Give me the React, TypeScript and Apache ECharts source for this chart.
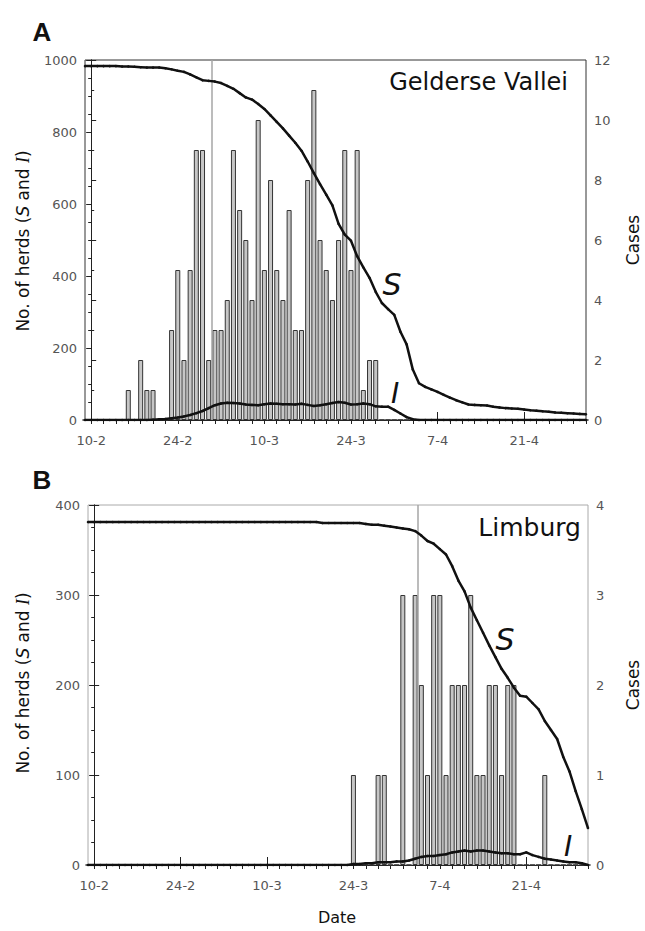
import React, { useEffect, useRef } from "react";
import * as echarts from "echarts";

// Day labels (d-m), 9-2 .. 1-5; index i corresponds to day offset i-1 from 10-2
const dates = [
  "9-2","10-2","11-2","12-2","13-2","14-2","15-2","16-2","17-2","18-2",
  "19-2","20-2","21-2","22-2","23-2","24-2","25-2","26-2","27-2","28-2",
  "1-3","2-3","3-3","4-3","5-3","6-3","7-3","8-3","9-3","10-3",
  "11-3","12-3","13-3","14-3","15-3","16-3","17-3","18-3","19-3","20-3",
  "21-3","22-3","23-3","24-3","25-3","26-3","27-3","28-3","29-3","30-3",
  "31-3","1-4","2-4","3-4","4-4","5-4","6-4","7-4","8-4","9-4",
  "10-4","11-4","12-4","13-4","14-4","15-4","16-4","17-4","18-4","19-4",
  "20-4","21-4","22-4","23-4","24-4","25-4","26-4","27-4","28-4","29-4",
  "30-4","1-5",
];

const tickLabels = ["10-2", "24-2", "10-3", "24-3", "7-4", "21-4"];

// Panel A: Gelderse Vallei
const casesA = [
  0,0,0,0,0,0,0,1,0,2,
  1,1,0,0,3,5,2,5,9,9,
  2,3,3,4,9,7,6,4,10,5,
  8,5,4,7,3,3,8,11,6,5,
  4,6,9,5,9,1,2,2,0,0,
  0,0,0,0,0,0,0,0,0,0,
  0,0,0,0,0,0,0,0,0,0,
  0,0,0,0,0,0,0,0,0,0,
  0,0,
];
const susceptibleA = [
  983,983,983,983,983,983,982,982,981,980,
  979,979,979,977,974,970,967,960,952,944,
  942,940,936,928,920,908,896,890,878,864,
  846,828,810,790,770,748,718,686,655,626,
  596,545,515,498,455,424,395,356,325,308,
  292,245,210,140,102,92,85,78,70,62,
  55,49,43,42,41,40,37,35,33,32,
  31,29,27,26,24,23,21,20,19,18,
  17,16,
];
const infectiousA = [
  0,0,0,0,0,0,0,0,0,0,
  0,1,2,3,5,7,10,14,19,25,
  33,41,46,48,47,46,43,42,41,44,
  46,45,44,44,43,45,42,39,41,44,
  47,50,48,43,44,46,44,38,37,37,
  28,18,8,2,0,0,0,0,0,0,
  0,0,0,0,0,0,0,0,0,0,
  0,0,0,0,0,0,0,0,0,0,
  0,0,
];
const controlDateA = "2-3";

// Panel B: Limburg
const casesB = [
  0,0,0,0,0,0,0,0,0,0,
  0,0,0,0,0,0,0,0,0,0,
  0,0,0,0,0,0,0,0,0,0,
  0,0,0,0,0,0,0,0,0,0,
  0,0,0,1,0,0,0,1,1,0,
  0,3,0,3,2,1,3,3,1,2,
  2,2,3,1,1,2,2,1,2,2,
  0,0,0,0,1,0,0,0,0,0,
  0,0,
];
const susceptibleB = [
  381,381,381,381,381,381,381,381,381,381,
  381,381,381,381,381,381,381,381,381,381,
  381,381,381,381,381,381,381,381,381,381,
  381,381,381,381,381,381,381,381,380,380,
  380,380,380,380,380,379,378,378,377,376,
  375,374,373,371,366,360,357,351,345,332,
  316,304,286,272,258,244,231,218,208,197,
  188,187,180,173,160,150,140,120,104,82,
  62,41,
];
const infectiousB = [
  0,0,0,0,0,0,0,0,0,0,
  0,0,0,0,0,0,0,0,0,0,
  0,0,0,0,0,0,0,0,0,0,
  0,0,0,0,0,0,0,0,0,0,
  0,0,0,1,1,2,2,3,3,3,
  4,4,5,7,9,10,10,11,12,14,
  15,16,15,16,16,15,14,13,13,12,
  12,14,11,9,7,6,5,4,3,3,
  2,0,
];
const controlDateB = "4-4";

const FONT = "DejaVu Sans";

function dayOf(label: string) {
  return dates.indexOf(label) - 1;
}

function pairs(values: number[]) {
  return values.map((v, i) => [i - 1, v]);
}

export default function App() {
  const ref = useRef<HTMLDivElement>(null);

  useEffect(() => {
    if (!ref.current) return;
    const chart = echarts.init(ref.current, undefined, { renderer: "svg" });

    const labelDays = tickLabels.map(dayOf);
    const minorDays = dates
      .map((_, i) => i - 1)
      .filter((d) => d >= 0 && d % 2 === 0);
    const fmt = (v: number) => dates[Math.round(v) + 1] ?? "";

    const mainX = (gridIndex: number) => ({
      type: "value",
      gridIndex,
      min: -1,
      max: 80,
      axisLine: { show: true, onZero: false, lineStyle: { color: "#222", width: 1 } },
      axisTick: { show: true, customValues: minorDays, length: 4, lineStyle: { color: "#222" } },
      axisLabel: {
        customValues: labelDays,
        formatter: fmt,
        color: "#555",
        fontSize: 13,
        fontFamily: FONT,
        margin: 14,
      },
      splitLine: { show: false },
    });
    const majorX = (gridIndex: number) => ({
      type: "value",
      gridIndex,
      min: -1,
      max: 80,
      axisLine: { show: false },
      axisTick: { show: true, customValues: labelDays, length: 8, lineStyle: { color: "#222" } },
      axisLabel: { show: false },
      splitLine: { show: false },
    });
    const yAx = (
      gridIndex: number,
      position: "left" | "right",
      max: number,
      interval: number,
      minor: number
    ) => ({
      type: "value",
      gridIndex,
      position,
      min: 0,
      max,
      interval,
      axisLine: { show: true, lineStyle: { color: "#222", width: 1 } },
      axisTick: { show: true, length: 5, lineStyle: { color: "#222" } },
      minorTick: { show: minor > 0, splitNumber: minor || 5, length: 3, lineStyle: { color: "#222" } },
      axisLabel: {
        color: "#555",
        fontSize: 13,
        fontFamily: FONT,
        margin: 8,
        formatter: (v: number) => String(v),
      },
      splitLine: { show: false },
      minorSplitLine: { show: false },
    });

    const lineSeries = (name: string, values: number[], xi: number, yi: number) => ({
      name,
      type: "line",
      xAxisIndex: xi,
      yAxisIndex: yi,
      data: pairs(values),
      showSymbol: true,
      symbol: "circle",
      symbolSize: 2.5,
      itemStyle: { color: "#111" },
      lineStyle: { color: "#111", width: 2.5 },
      z: 5,
    });
    const barSeries = (name: string, values: number[], xi: number, yi: number, controlDay: number) => ({
      name,
      type: "bar",
      xAxisIndex: xi,
      yAxisIndex: yi,
      data: pairs(values),
      barWidth: 5,
      itemStyle: { color: "#c6c6c6", borderColor: "#333", borderWidth: 1 },
      z: 2,
      markLine: {
        silent: true,
        symbol: "none",
        label: { show: false },
        lineStyle: { color: "#a6a6a6", width: 1.5, type: "solid" },
        data: [{ xAxis: controlDay - 0.5 }],
      },
    });

    const herdsTitle = (y: number) => ({
      type: "text",
      x: 23,
      y,
      rotation: Math.PI / 2,
      style: {
        text: "{a|No. of herds (}{b|S}{a| and }{c|I}{a|)}",
        align: "center",
        verticalAlign: "middle",
        rich: {
          a: { fontFamily: FONT, fontSize: 17, fill: "#111" },
          b: { fontFamily: FONT, fontSize: 17, fontStyle: "italic", fill: "#111" },
          c: { fontFamily: "Liberation Serif", fontSize: 18, fontStyle: "italic", fill: "#111" },
        },
      },
    });
    const casesTitle = (y: number) => ({
      type: "text",
      x: 633,
      y,
      rotation: Math.PI / 2,
      style: {
        text: "Cases",
        fontFamily: FONT,
        fontSize: 17,
        fill: "#111",
        align: "center",
        verticalAlign: "middle",
      },
    });
    const txt = (text: string, x: number, y: number, size: number, opts: any = {}) => ({
      type: "text",
      x,
      y,
      style: {
        text,
        fontFamily: FONT,
        fontSize: size,
        fill: "#111",
        align: "center",
        verticalAlign: "middle",
        ...opts,
      },
    });

    chart.setOption({
      animation: false,
      backgroundColor: "#fff",
      grid: [
        { left: 85, width: 501, top: 60, height: 360, show: true, borderColor: "#333", borderWidth: 1, backgroundColor: "transparent" },
        { left: 88, width: 500, top: 505, height: 360, show: true, borderColor: "#aaa", borderWidth: 1, backgroundColor: "transparent" },
      ],
      xAxis: [mainX(0), majorX(0), mainX(1), majorX(1)],
      yAxis: [
        yAx(0, "left", 1000, 200, 4),
        yAx(0, "right", 12, 2, 2),
        yAx(1, "left", 400, 100, 4),
        yAx(1, "right", 4, 1, 0),
      ],
      series: [
        barSeries("Cases A", casesA, 0, 1, dayOf(controlDateA)),
        lineSeries("S A", susceptibleA, 0, 0),
        lineSeries("I A", infectiousA, 0, 0),
        barSeries("Cases B", casesB, 2, 3, dayOf(controlDateB)),
        lineSeries("S B", susceptibleB, 2, 2),
        lineSeries("I B", infectiousB, 2, 2),
      ],
      graphic: [
        txt("A", 42, 32, 26, { fontFamily: "Liberation Sans", fontWeight: "bold" }),
        txt("B", 42, 480, 26, { fontFamily: "Liberation Sans", fontWeight: "bold" }),
        herdsTitle(241),
        herdsTitle(683),
        casesTitle(240),
        casesTitle(685),
        txt("Gelderse Vallei", 568, 82, 24, { align: "right" }),
        txt("Limburg", 581, 527, 25, { align: "right" }),
        txt("S", 392, 284, 30, { fontStyle: "italic" }),
        txt("I", 395, 393, 28, { fontStyle: "italic" }),
        txt("S", 505, 639, 30, { fontStyle: "italic" }),
        txt("I", 568, 846, 28, { fontStyle: "italic" }),
        txt("Date", 337, 917, 16),
      ],
    });

    return () => chart.dispose();
  }, []);

  return (
    <div
      ref={ref}
      style={{ position: "absolute", left: 0, top: 0, width: 645, height: 931 }}
    />
  );
}
